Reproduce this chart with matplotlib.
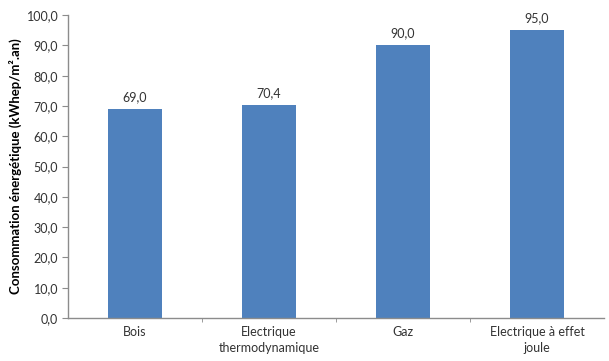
import matplotlib
matplotlib.use('Agg')
import matplotlib.pyplot as plt
import matplotlib.ticker as ticker

categories = ["Bois", "Electrique\nthermodynamique", "Gaz", "Electrique à effet\njoule"]
values = [69.0, 70.4, 90.0, 95.0]

bar_color = '#4F81BD'
axis_color = '#8C8C8C'
text_color = '#333333'

plt.rcParams['font.family'] = ['Lato', 'DejaVu Sans']

fig = plt.figure(figsize=(6.09, 3.61), dpi=100)
ax = fig.add_axes([0.1117, 0.119, 0.8803, 0.839])

x = list(range(len(categories)))
ax.bar(x, values, width=0.4, color=bar_color)

for xi, v in zip(x, values):
    ax.text(xi, v + 2.0, f"{v:.1f}".replace('.', ','), ha='center', va='bottom',
            fontsize=9, color=text_color)

ax.set_xlim(-0.5, len(categories) - 0.5)
ax.set_ylim(0, 100)
ax.yaxis.set_major_locator(ticker.MultipleLocator(10))
ax.yaxis.set_major_formatter(ticker.FuncFormatter(lambda v, p: f"{v:.1f}".replace('.', ',')))

ax.set_xticks(x)
ax.set_xticklabels(categories, fontsize=9, color=text_color, linespacing=1.35)
ax.set_xticks([i + 0.5 for i in x[:-1]], minor=True)
ax.tick_params(axis='x', which='major', length=0, pad=6)
ax.tick_params(axis='x', which='minor', length=3, direction='out', color=axis_color)
ax.tick_params(axis='y', length=4, direction='out', color=axis_color,
               labelsize=9, labelcolor=text_color, pad=3)

ax.set_ylabel("Consommation énergétique (kWhep/m².an)", fontsize=9.5,
              fontweight='bold', labelpad=3)

for side in ['top', 'right']:
    ax.spines[side].set_visible(False)
for side in ['left', 'bottom']:
    ax.spines[side].set_color(axis_color)
    ax.spines[side].set_linewidth(1.0)

fig.savefig('out.png', dpi=100)
